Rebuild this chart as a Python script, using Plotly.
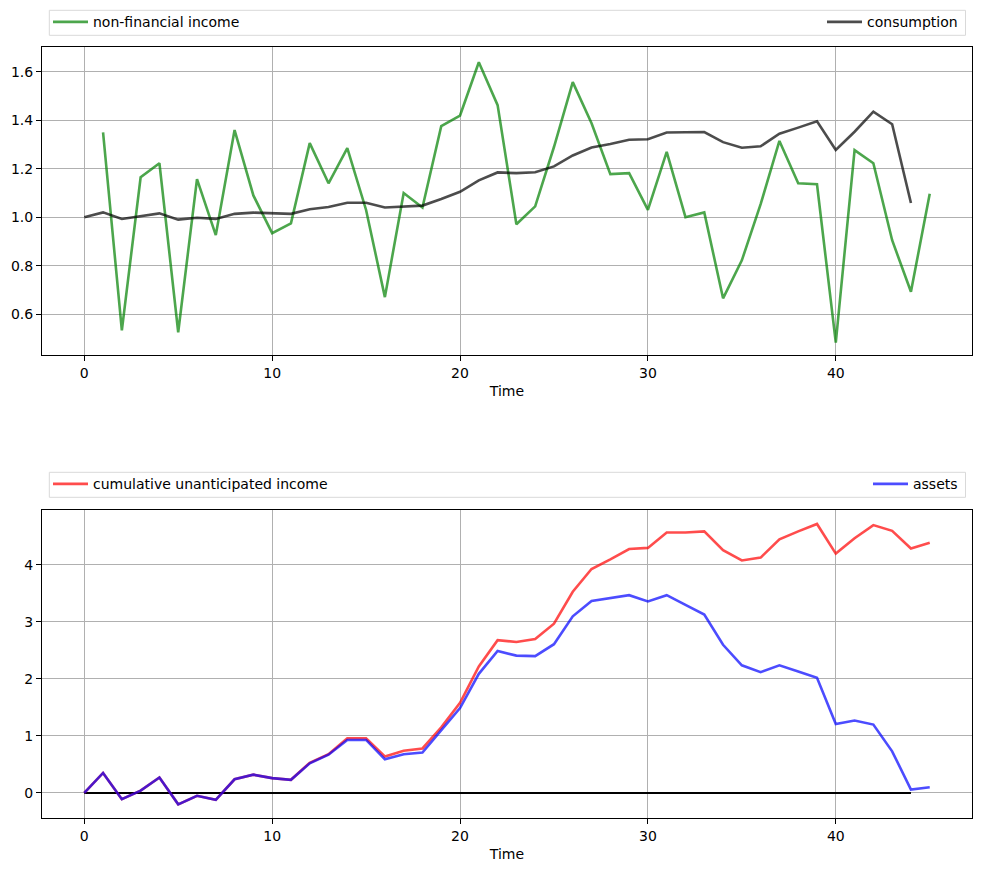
import plotly.graph_objects as go

# ---------------- data ----------------
t_income = list(range(1, 46))
income = [1.35, 0.533, 1.165, 1.223, 0.525, 1.157, 0.926, 1.36, 1.09, 0.934,
          0.975, 1.306, 1.14, 1.285, 1.03, 0.67, 1.10, 1.04, 1.376, 1.42,
          1.64, 1.463, 0.971, 1.045, 1.29, 1.558, 1.388, 1.178, 1.182, 1.03,
          1.27, 1.0, 1.02, 0.665, 0.822, 1.054, 1.315, 1.14, 1.136, 0.482,
          1.277, 1.223, 0.905, 0.692, 1.097]

t_cons = list(range(0, 45))
consumption = [1.0, 1.02, 0.993, 1.004, 1.016, 0.99, 0.998, 0.993, 1.014, 1.019,
               1.016, 1.014, 1.033, 1.042, 1.06, 1.06, 1.04, 1.045, 1.048, 1.075,
               1.105, 1.152, 1.185, 1.182, 1.186, 1.21, 1.255, 1.288, 1.302, 1.32,
               1.322, 1.35, 1.35, 1.352, 1.31, 1.287, 1.293, 1.345, 1.37, 1.396,
               1.278, 1.353, 1.436, 1.384, 1.059]

t_cum = list(range(0, 46))
cum_unanticipated = [0.0, 0.35, -0.11, 0.04, 0.27, -0.2, -0.05, -0.12, 0.24, 0.32,
                     0.26, 0.23, 0.53, 0.68, 0.96, 0.96, 0.64, 0.74, 0.78, 1.15,
                     1.58, 2.22, 2.68, 2.65, 2.70, 2.97, 3.53, 3.93, 4.10, 4.28,
                     4.30, 4.57, 4.57, 4.59, 4.26, 4.08, 4.13, 4.45, 4.59, 4.72,
                     4.20, 4.47, 4.70, 4.60, 4.29, 4.39]
assets = [0.0, 0.35, -0.11, 0.04, 0.27, -0.2, -0.05, -0.12, 0.24, 0.32,
          0.26, 0.23, 0.52, 0.67, 0.93, 0.93, 0.59, 0.68, 0.71, 1.10,
          1.49, 2.09, 2.49, 2.41, 2.40, 2.61, 3.10, 3.37, 3.42, 3.47,
          3.36, 3.47, 3.30, 3.13, 2.60, 2.24, 2.12, 2.24, 2.13, 2.02,
          1.21, 1.27, 1.20, 0.73, 0.06, 0.10]

t_zero = list(range(0, 45))
zero_line = [0.0] * 45

top_yticks = [0.6, 0.8, 1.0, 1.2, 1.4, 1.6]
bottom_yticks = [0, 1, 2, 3, 4]
xticks = [0, 10, 20, 30, 40]

# ---------------- figure ----------------
W, H = 981, 872
FONT = "DejaVu Sans"
FS = 14
GREEN = "rgba(0,128,0,0.7)"
BLACK = "rgba(0,0,0,0.7)"
RED = "rgba(255,0,0,0.7)"
BLUE = "rgba(0,0,255,0.7)"
LW = 2.6


def px_x(p):
    return p / W


def px_y(p):
    return 1 - p / H


fig = go.Figure()

fig.add_trace(go.Scatter(x=t_income, y=income, mode="lines", name="non-financial income",
                         line=dict(color=GREEN, width=LW), xaxis="x", yaxis="y", legend="legend"))
fig.add_trace(go.Scatter(x=t_cons, y=consumption, mode="lines", name="consumption",
                         line=dict(color=BLACK, width=LW), xaxis="x", yaxis="y", legend="legend2"))

fig.add_trace(go.Scatter(x=t_zero, y=zero_line, mode="lines", showlegend=False,
                         line=dict(color="black", width=2), xaxis="x2", yaxis="y2"))
fig.add_trace(go.Scatter(x=t_cum, y=cum_unanticipated, mode="lines", name="cumulative unanticipated income",
                         line=dict(color=RED, width=LW), xaxis="x2", yaxis="y2", legend="legend3"))
fig.add_trace(go.Scatter(x=t_cum, y=assets, mode="lines", name="assets",
                         line=dict(color=BLUE, width=LW), xaxis="x2", yaxis="y2", legend="legend4"))

axis_common = dict(showline=True, linecolor="black", linewidth=1, mirror=True,
                   ticks="outside", ticklen=5, tickwidth=1, tickcolor="black",
                   showgrid=True, gridcolor="#b0b0b0", gridwidth=1, zeroline=False,
                   tickfont=dict(family=FONT, size=FS, color="black"))

xdom = [px_x(42), px_x(972)]
fig.update_layout(
    width=W, height=H,
    margin=dict(l=0, r=0, t=0, b=0),
    paper_bgcolor="white", plot_bgcolor="white",
    font=dict(family=FONT, size=FS, color="black"),
    xaxis=dict(domain=xdom, anchor="y", range=[-2.25, 47.25], tickvals=xticks,
               title=dict(text="Time", font=dict(family=FONT, size=FS), standoff=6), **axis_common),
    yaxis=dict(domain=[px_y(355), px_y(47)], anchor="x", range=[0.431, 1.703],
               tickvals=top_yticks, tickformat=".1f", **axis_common),
    xaxis2=dict(domain=xdom, anchor="y2", range=[-2.25, 47.25], tickvals=xticks,
                title=dict(text="Time", font=dict(family=FONT, size=FS), standoff=6), **axis_common),
    yaxis2=dict(domain=[px_y(818), px_y(510)], anchor="x2", range=[-0.44, 4.965],
                tickvals=bottom_yticks, **axis_common),
)

leg_common = dict(bgcolor="rgba(0,0,0,0)", borderwidth=0, font=dict(family=FONT, size=FS),
                  itemwidth=35, yanchor="middle", orientation="h", tracegroupgap=0)
fig.update_layout(
    legend=dict(x=px_x(48), xanchor="left", y=px_y(22.3), **leg_common),
    legend2=dict(x=px_x(963), xanchor="right", y=px_y(22.3), **leg_common),
    legend3=dict(x=px_x(48), xanchor="left", y=px_y(484.3), **leg_common),
    legend4=dict(x=px_x(963), xanchor="right", y=px_y(484.3), **leg_common),
)

# legend frames (matplotlib expand-mode boxes)
for top, bottom in [(10.3, 35.3), (472.3, 497.3)]:
    fig.add_shape(type="rect", xref="paper", yref="paper",
                  x0=px_x(49.3), x1=px_x(965.5), y0=px_y(bottom), y1=px_y(top),
                  line=dict(color="#d9d9d9", width=1), fillcolor="rgba(255,255,255,0.8)",
                  layer="below")

fig.write_html("out.html")
